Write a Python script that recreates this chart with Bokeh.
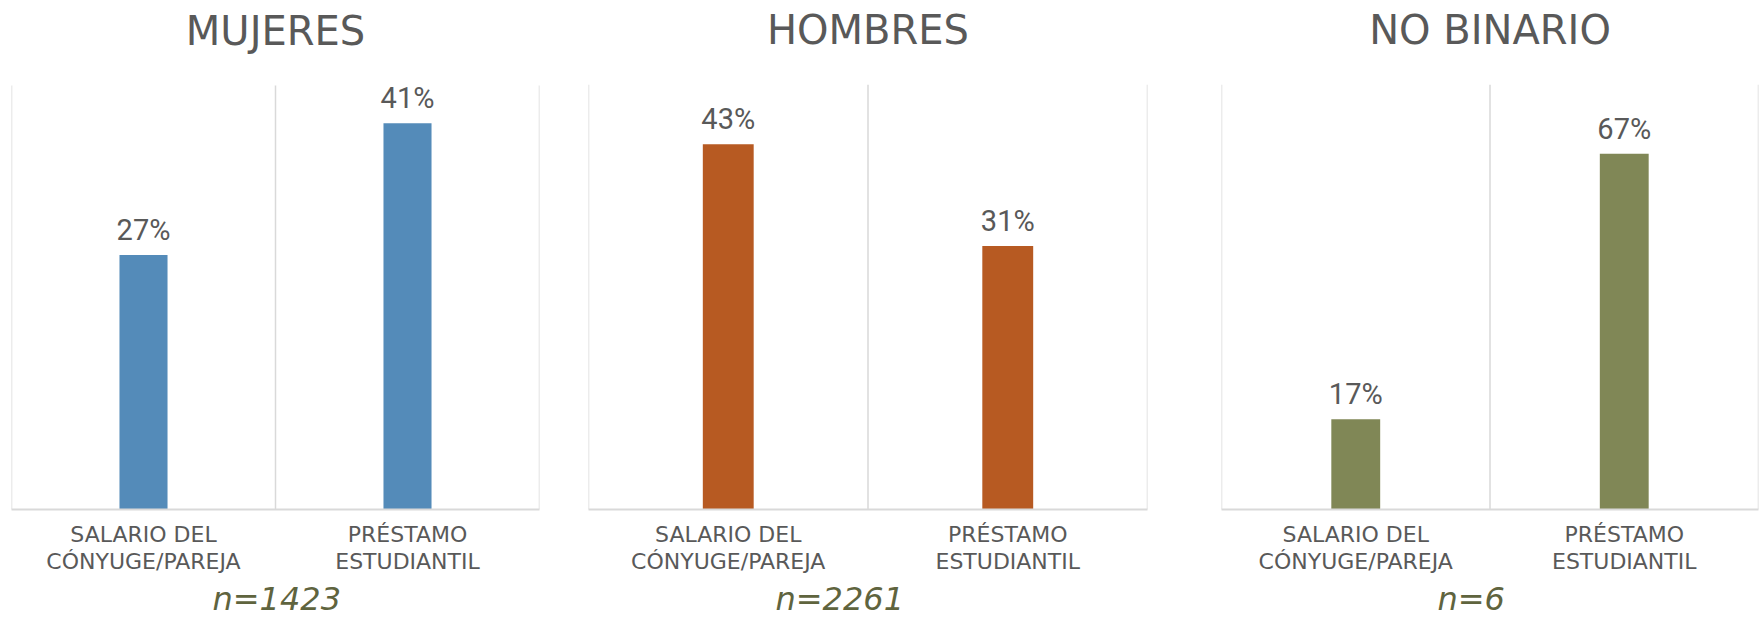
from bokeh.plotting import figure
from bokeh.layouts import row
from bokeh.models import FactorRange, Range1d, Title, ColumnDataSource
from bokeh.core.properties import value
from bokeh.embed import file_html
from bokeh.resources import INLINE

# ---- data ----
categories = ["SALARIO DEL\nCÓNYUGE/PAREJA", "PRÉSTAMO\nESTUDIANTIL"]
groups = ["MUJERES", "HOMBRES", "NO BINARIO"]
mujeres = [27, 41]
hombres = [43, 31]
no_binario = [17, 67]
sample_sizes = ["n=1423", "n=2261", "n=6"]

# ---- style ----
colors = ["#548BB9", "#B75A22", "#808756"]
ymaxes = [45, 50, 80]
TEXT = "#595959"
GRID = "#D9D9D9"
NCOL = "#5F643E"
FONT = "DejaVu Sans"
NUMFONT = "Roboto"
FIG_H = 619
HEAD = 85           # pixels above the bar area (title space inside frame)

layouts = [
    dict(w=563, bl=11, br=24, noff=201, ph=424),
    dict(w=621, bl=25, br=37, noff=187, ph=429),
    dict(w=576, bl=37, br=2, noff=216, ph=429),
]


def make_panel(title, vals, ymax, color, ntext, lay):
    ph = lay["ph"]
    p = figure(x_range=FactorRange(*categories, range_padding=0),
               y_range=Range1d(0, ymax * (ph + HEAD) / ph),
               width=lay["w"], height=FIG_H,
               output_backend="svg", toolbar_location=None,
               min_border_left=lay["bl"], min_border_right=lay["br"],
               min_border_top=0, min_border_bottom=FIG_H - HEAD - ph)
    p.outline_line_color = None
    p.grid.visible = False
    p.yaxis.visible = False
    p.background_fill_color = "white"
    p.border_fill_color = "white"

    # vertical separators at category edges
    edges = list(range(len(categories) + 1))
    p.segment(x0=edges, x1=edges, y0=0, y1=ymax,
              line_color=GRID, line_width=1.5)

    src = ColumnDataSource(dict(cat=categories, val=vals,
                                lab=[f"{v}%" for v in vals]))
    p.vbar(x="cat", top="val", width=0.182, source=src,
           fill_color=color, line_color=None)
    p.text(x="cat", y="val", text="lab", source=src,
           text_align="center", text_baseline="alphabetic", y_offset=-25,
           text_font=value(NUMFONT), text_font_size="29px", text_color=TEXT)

    # panel heading
    p.text(x=[len(categories) / 2], y=[ymax], text=[title],
           y_offset=-55,
           text_align="center", text_baseline="alphabetic",
           text_font=value(FONT), text_font_size="40px", text_color=TEXT)

    ax = p.xaxis[0]
    ax.axis_line_color = GRID
    ax.axis_line_width = 2
    ax.major_tick_line_color = None
    ax.minor_tick_line_color = None
    ax.major_tick_out = 0
    ax.major_label_standoff = 12
    ax.major_label_text_font = FONT
    ax.major_label_text_font_size = "22px"
    ax.major_label_text_color = TEXT
    ax.major_label_text_line_height = 1.1

    p.add_layout(Title(text=ntext, align="left", offset=lay["noff"],
                       text_font=FONT, text_font_size="32px",
                       text_font_style="italic", text_color=NCOL,
                       standoff=0), "below")
    return p


series = [mujeres, hombres, no_binario]
panels = [make_panel(groups[i], series[i], ymaxes[i], colors[i],
                     sample_sizes[i], layouts[i]) for i in range(3)]
layout = row(*panels, spacing=0)

open("out.html", "w").write(file_html(layout, INLINE))
